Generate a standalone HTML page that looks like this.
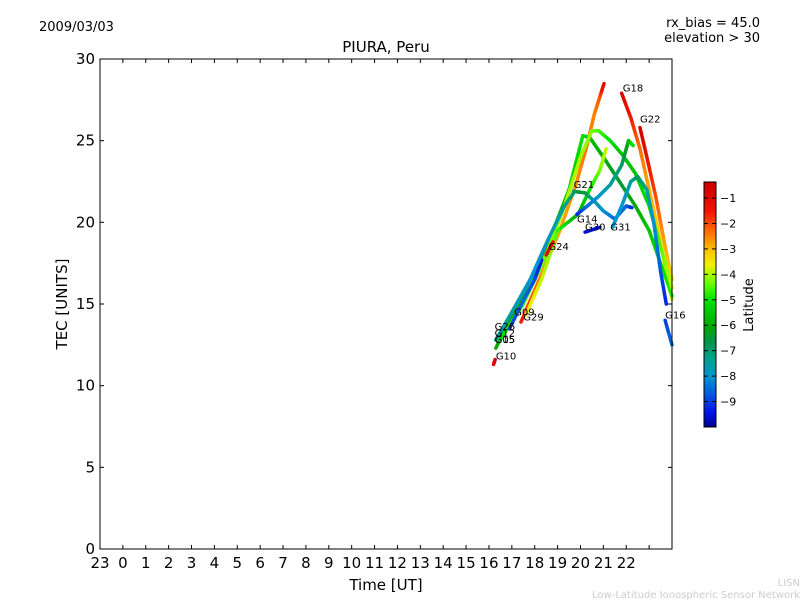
<!DOCTYPE html>
<html><head><meta charset="utf-8"><style>
body{margin:0;background:#fff;font-family:"Liberation Sans","DejaVu Sans",sans-serif;}
svg text{font-family:"DejaVu Sans","Liberation Sans",sans-serif;}
</style></head><body>
<svg id="chart" width="800" height="600" xmlns="http://www.w3.org/2000/svg">
<rect width="800" height="600" fill="#fff"/>
<text x="39" y="31" font-size="13">2009/03/03</text>
<text x="760" y="27" font-size="13" text-anchor="end">rx_bias = 45.0</text>
<text x="760" y="42" font-size="13" text-anchor="end">elevation &gt; 30</text>
<text x="386" y="52" font-size="15" text-anchor="middle">PIURA, Peru</text>
<text x="67" y="304" font-size="15" text-anchor="middle" transform="rotate(-90 67 304)">TEC [UNITS]</text>
<text x="386" y="590" font-size="15" text-anchor="middle">Time [UT]</text>
<g id="tracks"></g>
<g id="axes"></g>
<g id="labels"></g>
<g id="cbar"></g>
<g id="cbticks"></g>
<text x="753" y="305" font-size="13" text-anchor="middle" transform="rotate(-90 753 305)">Latitude</text>
<text x="800" y="586" font-size="10" fill="#ccc" text-anchor="end">LISN</text>
<text x="800" y="598" font-size="10" fill="#ccc" text-anchor="end">Low-Latitude Ionospheric Sensor Network</text>
</svg>
<script>
const xTickLabels=["23","0","1","2","3","4","5","6","7","8","9","10","11","12","13","14","15","16","17","18","19","20","21","22"];
const yTicks=[0,5,10,15,20,25,30];
const cbTicks=[-1,-2,-3,-4,-5,-6,-7,-8,-9];
// each track: [time, TEC, latitude]
const G18rise=[[17.4,13.9,-1.5],[18.2,16.5,-2.4],[19.1,19.5,-2.8],[19.8,22.3,-2.6],[20.3,24.8,-2.3],[20.6,26.6,-2.5],[20.85,27.7,-2.1],[21.03,28.5,-1]];
const G18=[[21.8,27.9,-0.8],[22.2,26.4,-1.5],[22.6,24.5,-2.3],[23.0,22.0,-2.8],[23.4,19.5,-3.2],[23.8,16.5,-3.5],[24.0,15.3,-3.8]];
const G22=[[22.6,25.8,-0.6],[22.9,24.0,-1.3],[23.3,21.5,-2],[23.7,18.5,-2.8],[24.0,16.5,-3.3]];
const greenPeak=[[16.3,12.3,-6],[17.0,14.3,-6],[18.0,17.0,-6.5],[18.8,19.5,-6],[19.5,22.0,-5.5],[20.1,25.3,-5],[20.4,25.2,-5.5],[21.0,24.0,-6],[21.7,22.5,-6.5],[22.4,21.0,-6],[23.0,19.5,-5.5],[23.5,17.5,-5],[24.0,15.5,-4.8]];
const yellowPeak=[[16.5,12.8,-5],[17.5,15,-4.5],[18.5,18,-4.3],[19.3,21,-4],[20.0,24.0,-4],[20.5,25.6,-4.2],[20.8,25.6,-4.5],[21.3,25.0,-5],[21.8,24.2,-5.5],[22.4,23.0,-5.5],[23.0,21.0,-5],[23.5,18.5,-4.5],[24.0,16.0,-3.8]];
const G29=[[17.6,14.3,-3.5],[18.3,16.5,-3.8],[19.0,19.5,-4.5],[19.9,20.5,-6],[20.4,22.0,-5],[20.85,23.2,-4.3],[21.12,24.5,-3.8]];
const G21=[[19.7,21.9,-6.5],[20.2,21.8,-6.5],[20.6,21.3,-7.5],[21.0,20.7,-8],[21.5,20.2,-8.5],[22.0,21.0,-8.5],[22.25,20.9,-9.2]];
const G14=[[19.85,20.5,-9.3],[20.3,21.0,-8.5],[20.8,21.6,-8],[21.3,22.3,-7.5],[21.8,23.5,-7],[22.0,24.5,-6.3],[22.1,25.0,-5.8],[22.3,24.7,-5]];
const G31=[[21.4,19.7,-8],[21.8,21.0,-8],[22.2,22.5,-7.5],[22.5,22.8,-6.8],[22.9,22.0,-7.3],[23.2,20.0,-8],[23.5,17.0,-8.7],[23.75,15.0,-9.3]];
const G16=[[23.7,14.0,-9],[24.0,12.5,-8.5]];
const G30=[[20.2,19.4,-9.6],[20.85,19.7,-9.4]];
const blueLow=[[16.9,13.5,-9],[17.5,15.2,-8.5],[18.0,16.5,-8.8],[18.3,17.7,-9.5]];
const tealLow=[[16.3,12.8,-7.5],[17.0,14.5,-7.5],[17.8,16.5,-8],[18.6,19,-7.8],[19.3,21,-7.5],[19.75,21.9,-7]];
const G10=[[16.2,11.3,-0.8],[16.27,11.6,-0.8]];
const G24=[[18.5,18.0,-1],[18.8,18.8,-1.2]];
const tracks=[G18rise,G18,G22,greenPeak,yellowPeak,G29,G21,G14,G31,G16,G30,blueLow,tealLow,G10,G24];
const satNames=["G26","G12","G05","G15","G10","G09","G29","G24","G21","G14","G30","G31","G18","G22","G16"];
const satT=[16.25,16.25,16.25,16.25,16.3,17.1,17.5,18.6,19.7,19.85,20.2,21.3,21.85,22.6,23.7];
const satV=[13.4,13.0,12.6,12.6,11.6,14.3,14.0,18.3,22.1,20.0,19.5,19.5,28.0,26.1,14.1];

const NS="http://www.w3.org/2000/svg";
const L=100,R=672,T=59,B=549;
const x=t=>L+(t+1)*(R-L)/25;
const y=v=>B-v*(B-T)/30;
const cbY=l=>182+(-0.37-l)*245/(10-0.37);
const CM=[[-10,[0,0,140]],[-9.4,[0,20,230]],[-8.8,[0,80,220]],[-8,[0,150,210]],[-7.3,[0,160,140]],[-6.6,[0,150,70]],[-6,[0,170,0]],[-5,[0,225,0]],[-4.3,[110,255,0]],[-3.6,[240,240,0]],[-3,[255,190,0]],[-2.3,[255,110,0]],[-1.5,[240,20,0]],[-0.37,[200,0,0]]];
function jet(l){l=Math.max(-10,Math.min(-0.37,l));
 for(let i=0;i<CM.length-1;i++){const a=CM[i],b=CM[i+1];if(l<=b[0]){const f=(l-a[0])/(b[0]-a[0]);
  const c=a[1].map((v,k)=>Math.round(v+(b[1][k]-v)*f));return `rgb(${c})`;}}
 return 'rgb(200,0,0)';}
function mk(tag,attrs,p){const e=document.createElementNS(NS,tag);for(const k in attrs)e.setAttribute(k,attrs[k]);p.appendChild(e);return e;}
const cb=document.getElementById('cbar');
for(let py=182;py<427;py++){const l=-0.37-(py-182)*(10-0.37)/245;mk('rect',{x:704,y:py,width:12,height:1.2,fill:jet(l)},cb);}
mk('rect',{x:704,y:182,width:12,height:245,fill:'none',stroke:'#000'},cb);
const tg=document.getElementById('tracks');
tracks.forEach(tr=>{for(let i=0;i<tr.length-1;i++){const a=tr[i],b=tr[i+1];const n=6;
 for(let k=0;k<n;k++){const u0=k/n,u1=(k+1)/n;
  const ln=mk('line',{x1:x(a[0]+(b[0]-a[0])*u0),y1:y(a[1]+(b[1]-a[1])*u0),x2:x(a[0]+(b[0]-a[0])*u1),y2:y(a[1]+(b[1]-a[1])*u1),stroke:jet(a[2]+(b[2]-a[2])*(u0+u1)/2),'stroke-width':3.5,'stroke-linecap':'round'},tg);
  
  }}});
const lg=document.getElementById('labels');
satNames.forEach((s,i)=>{const t=mk('text',{x:x(satT[i]),y:y(satV[i]),'font-size':10},lg);t.textContent=s;
 
 });
const ax=document.getElementById('axes');
const fr=mk('rect',{x:L,y:T,width:R-L,height:B-T,fill:'none',stroke:'#000','stroke-width':1},ax);


for(let h=-1;h<=24;h++){mk('line',{x1:x(h),x2:x(h),y1:B,y2:B-4,stroke:'#000'},ax);mk('line',{x1:x(h),x2:x(h),y1:T,y2:T+4,stroke:'#000'},ax);}
xTickLabels.forEach((s,i)=>{const t=mk('text',{x:x(i-1),y:568,'font-size':15,'text-anchor':'middle'},ax);t.textContent=s;
 
 });
yTicks.forEach(v=>{mk('line',{x1:L,x2:L+4,y1:y(v),y2:y(v),stroke:'#000'},ax);mk('line',{x1:R,x2:R-4,y1:y(v),y2:y(v),stroke:'#000'},ax);
 const t=mk('text',{x:95,y:y(v)+5,'font-size':15,'text-anchor':'end'},ax);t.textContent=v;
 
 });
const cg=document.getElementById('cbticks');
cbTicks.forEach(v=>{const yy=cbY(v);mk('line',{x1:704,x2:708,y1:yy,y2:yy,stroke:'#000'},cg);mk('line',{x1:716,x2:712,y1:yy,y2:yy,stroke:'#000'},cg);
 const t=mk('text',{x:720,y:yy+4,'font-size':11},cg);t.textContent='\u2212'+Math.abs(v);
 
 });
</script>
</body></html>
